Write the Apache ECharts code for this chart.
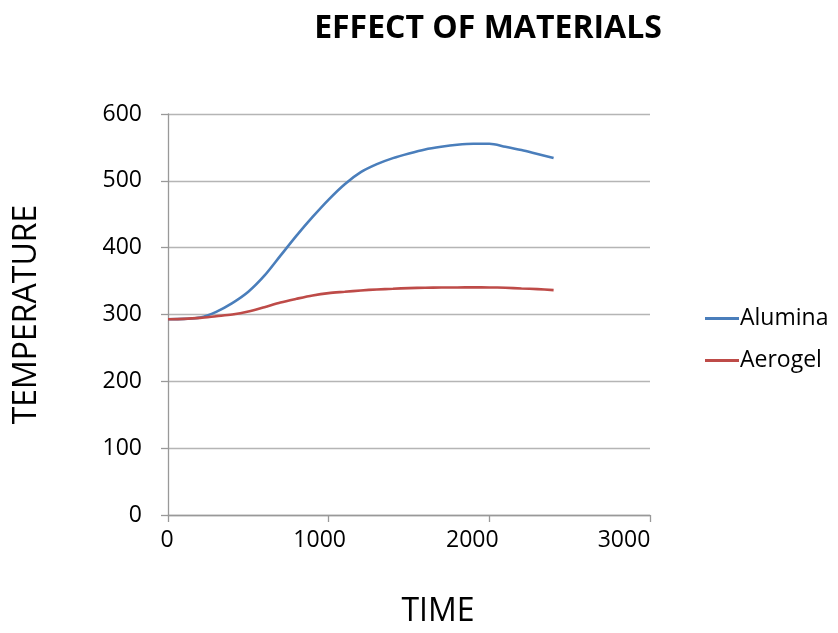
<!DOCTYPE html>
<html>
<head>
<meta charset="utf-8">
<script src="https://cdn.jsdelivr.net/npm/echarts@6/dist/echarts.min.js"></script>
<style>
  html, body { margin: 0; padding: 0; background: #fff; }
  #chart { width: 838px; height: 633px; }
</style>
</head>
<body>
<div id="chart"></div>
<script>
// Time samples (s) and temperatures for each material
const times = [0, 100, 200, 300, 400, 500, 600, 700, 800, 900, 1000, 1100, 1200,
               1300, 1400, 1500, 1600, 1700, 1800, 1900, 2000, 2100, 2200, 2300, 2400];
const alumina = [293, 293.5, 295.5, 304, 317, 334, 358, 388, 418, 446, 472, 495, 513,
                 525, 534, 541, 547, 551, 554, 555.5, 555.5, 551, 546, 540, 534];
const aerogel = [293, 293.5, 295, 297.5, 300, 304.5, 311, 318, 323.5, 328.5, 332, 334, 336,
                 337.5, 338.5, 339.5, 340, 340.3, 340.5, 340.6, 340.5, 340, 339, 338, 336.5];
const xTicks = [0, 1000, 2000, 3000];
const yTicks = [0, 100, 200, 300, 400, 500, 600];

const font = '"Open Sans", "Liberation Sans", sans-serif';
const chart = echarts.init(document.getElementById('chart'));

const pairs = (xs, ys) => xs.map((x, i) => [x, ys[i]]);

// x tick labels sit progressively left of their ticks
const xLabelRich = {
  t0: { padding: [0, 2, 0, 0] },
  t1: { padding: [0, 18, 0, 0] },
  t2: { padding: [0, 34, 0, 0] },
  t3: { padding: [0, 52, 0, 0] }
};

chart.setOption({
  animation: false,
  backgroundColor: '#fff',
  title: {
    text: 'EFFECT OF MATERIALS',
    left: 483, top: 8, textAlign: 'center',
    textStyle: { fontFamily: font, fontWeight: 'bold', fontSize: 32, color: '#000' }
  },
  grid: { left: 168, right: 188, top: 114, bottom: 112 },
  legend: {
    orient: 'vertical', left: 700, top: 302, itemGap: 19,
    itemWidth: 34, itemHeight: 3, icon: 'rect',
    textStyle: { fontFamily: font, fontSize: 23, color: '#000', padding: [0, 0, 0, -4] },
    data: ['Alumina', 'Aerogel']
  },
  xAxis: {
    type: 'value', min: xTicks[0], max: xTicks[xTicks.length - 1], interval: 1000,
    name: 'TIME', nameLocation: 'middle', nameGap: 81,
    nameTextStyle: { fontFamily: font, fontSize: 32, color: '#000', padding: [0, 0, 0, 58] },
    axisLine: { lineStyle: { color: '#999', width: 1.3 } },
    axisTick: { show: true, length: 7, lineStyle: { color: '#999', width: 1.3 } },
    axisLabel: {
      fontFamily: font, fontSize: 23, color: '#000', margin: 14,
      formatter: v => `{t${xTicks.indexOf(v)}|${v}}`,
      rich: xLabelRich
    },
    splitLine: { show: false }
  },
  yAxis: {
    type: 'value', min: yTicks[0], max: yTicks[yTicks.length - 1], interval: 100,
    name: 'TEMPERATURE', nameLocation: 'middle', nameGap: 125, nameRotate: 90,
    nameTextStyle: { fontFamily: font, fontSize: 32, color: '#000' },
    axisLine: { show: true, lineStyle: { color: '#999', width: 1.3 } },
    axisTick: { show: true, length: 7, lineStyle: { color: '#999', width: 1.3 } },
    axisLabel: { fontFamily: font, fontSize: 23, color: '#000', margin: 26 },
    splitLine: { show: true, lineStyle: { color: '#b5b5b5', width: 1.4 } }
  },
  series: [
    {
      name: 'Alumina', type: 'line', smooth: 0.3, symbol: 'none',
      data: pairs(times, alumina),
      itemStyle: { color: '#4A7EBB' },
      lineStyle: { color: '#4A7EBB', width: 2.6 }
    },
    {
      name: 'Aerogel', type: 'line', smooth: 0.3, symbol: 'none',
      data: pairs(times, aerogel),
      itemStyle: { color: '#BE4B48' },
      lineStyle: { color: '#BE4B48', width: 2.6 }
    }
  ]
});
</script>
</body>
</html>
